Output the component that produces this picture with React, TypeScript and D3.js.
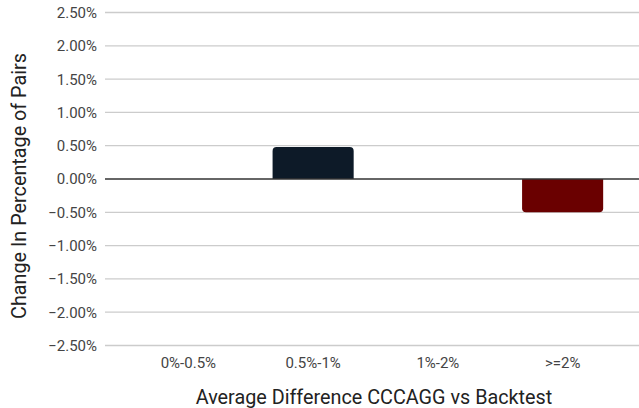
import React from "react";
import * as d3 from "d3";

const categories = ["0%-0.5%", "0.5%-1%", "1%-2%", ">=2%"];
const values = [0, 0.48, 0, -0.5];
const barColors = ["#0d1a28", "#0d1a28", "#0d1a28", "#6a0000"];
const yTicks = [2.5, 2, 1.5, 1, 0.5, 0, -0.5, -1, -1.5, -2, -2.5];
const xTitle = "Average Difference CCCAGG vs Backtest";
const yTitle = "Change In Percentage of Pairs";

const W = 639;
const H = 408;

function barPath(x0: number, x1: number, y0: number, y1: number, r: number) {
  const h = Math.abs(y1 - y0);
  const rr = Math.min(r, h, (x1 - x0) / 2);
  const p = d3.path();
  if (y1 < y0) {
    p.moveTo(x0, y0);
    p.lineTo(x0, y1 + rr);
    p.quadraticCurveTo(x0, y1, x0 + rr, y1);
    p.lineTo(x1 - rr, y1);
    p.quadraticCurveTo(x1, y1, x1, y1 + rr);
    p.lineTo(x1, y0);
  } else {
    p.moveTo(x0, y0);
    p.lineTo(x0, y1 - rr);
    p.quadraticCurveTo(x0, y1, x0 + rr, y1);
    p.lineTo(x1 - rr, y1);
    p.quadraticCurveTo(x1, y1, x1, y1 - rr);
    p.lineTo(x1, y0);
  }
  p.closePath();
  return p.toString();
}

export default function App() {
  const y = d3.scaleLinear().domain([-2.5, 2.5]).range([345.5, 12.5]);
  const x = d3
    .scaleBand<string>()
    .domain(categories)
    .range([126, 625])
    .paddingInner(0.35)
    .paddingOuter(0.175);
  const fmt = (v: number) => d3.format(".2f")(v) + "%";
  const font = "Roboto, 'Noto Sans', sans-serif";

  return (
    <svg
      width={W}
      height={H}
      style={{ position: "absolute", left: 0, top: 0, background: "#fff" }}
      fontFamily={font}
    >
      <rect x={0} y={0} width={W} height={H} fill="#fff" />
      {yTicks.map((t) => (
        <g key={t}>
          {t !== 0 && (
            <line x1={105} x2={W} y1={y(t)} y2={y(t)} stroke="#cccccc" strokeWidth={1.3} />
          )}
          <text
            x={97}
            y={y(t)}
            dy="0.36em"
            textAnchor="end"
            fontSize={15}
            fill="#444"
          >
            {fmt(t)}
          </text>
        </g>
      ))}
      {categories.map((c, i) => {
        const v = values[i];
        if (v === 0) return null;
        const x0 = x(c)!;
        return (
          <path
            key={c}
            d={barPath(x0, x0 + x.bandwidth(), y(0), y(v), 4)}
            fill={barColors[i]}
          />
        );
      })}
      <line x1={105} x2={W} y1={y(0)} y2={y(0)} stroke="#333" strokeWidth={1.6} />
      {categories.map((c) => (
        <text
          key={c}
          x={x(c)! + x.bandwidth() / 2}
          y={368}
          textAnchor="middle"
          fontSize={15}
          fill="#444"
        >
          {c}
        </text>
      ))}
      <text x={374} y={404} textAnchor="middle" fontSize={19.8} fill="#222">
        {xTitle}
      </text>
      <text
        transform={`translate(25.5,186) rotate(-90)`}
        textAnchor="middle"
        fontSize={19.8}
        fill="#222"
      >
        {yTitle}
      </text>
    </svg>
  );
}
